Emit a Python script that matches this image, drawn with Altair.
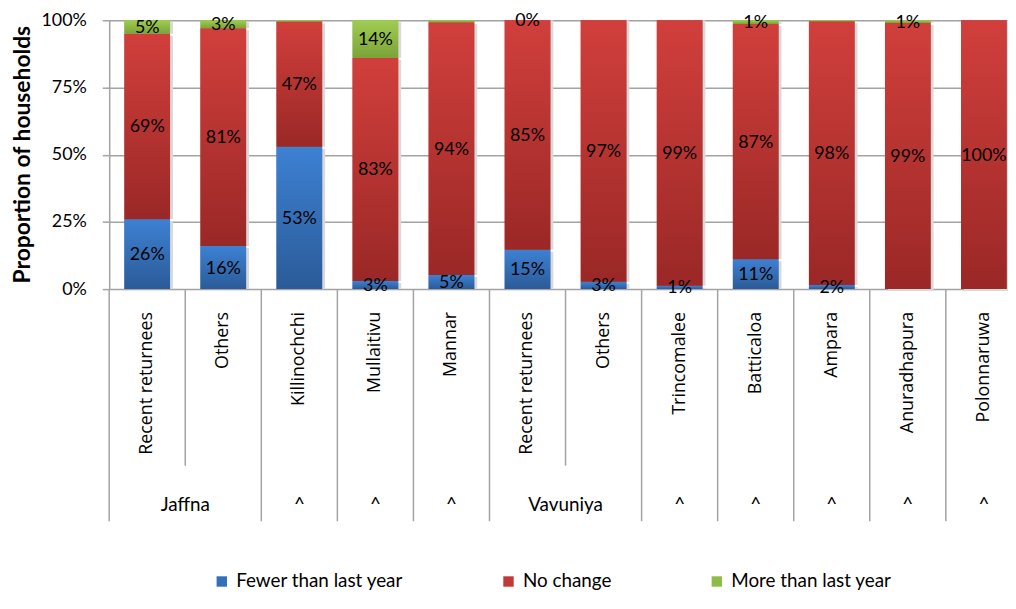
import altair as alt
import pandas as pd

# ---------------- data ----------------
groups = ["Jaffna", "Jaffna", "^", "^", "^", "Vavuniya", "Vavuniya", "^", "^", "^", "^", "^"]
subcats = ["Recent returnees", "Others", "Killinochchi", "Mullaitivu", "Mannar",
           "Recent returnees", "Others", "Trincomalee", "Batticaloa", "Ampara",
           "Anuradhapura", "Polonnaruwa"]
series = ["Fewer than last year", "No change", "More than last year"]

fewer = [26, 16, 52.9, 3, 5.2, 14.6, 2.7, 1.2, 11.1, 1.5, 0, 0]
nochange = [69, 81, 46.6, 83, 94.1, 85.4, 97.3, 98.8, 87.5, 98.1, 99, 100]
more = [5, 3, 0.5, 14, 0.7, 0, 0, 0, 1.4, 0.4, 1, 0]

fewer_text = ["26%", "16%", "53%", "3%", "5%", "15%", "3%", "1%", "11%", "2%", "", ""]
nochange_text = ["69%", "81%", "47%", "83%", "94%", "85%", "97%", "99%", "87%", "98%", "99%", "100%"]
more_text = ["5%", "3%", "", "14%", "", "0%", "", "", "1%", "", "1%", ""]

# ---------------- tables ----------------
keys = [f"{i:02d} {g} {s}" for i, (g, s) in enumerate(zip(groups, subcats))]

rows = []
for i, k in enumerate(keys):
    base = 0.0
    for s, vals, texts in zip(series, [fewer, nochange, more], [fewer_text, nochange_text, more_text]):
        v = vals[i]
        rows.append(dict(key=k, series=s, y0=base, y1=base + v, mid=base + v / 2, text=texts[i]))
        base += v
bars = pd.DataFrame(rows)

cats = pd.DataFrame({
    "key": keys,
    "sub": subcats,
    "group": groups,
    "inner": [i > 0 and groups[i] == groups[i - 1] and groups[i] != "^" for i in range(len(keys))],
})

runs = []
i = 0
while i < len(keys):
    j = i
    while groups[i] != "^" and j + 1 < len(keys) and groups[j + 1] == groups[i]:
        j += 1
    runs.append(dict(label=groups[i], first=keys[i], last=keys[j], span=j - i + 1))
    i = j + 1
grp = pd.DataFrame(runs)

# ---------------- styling ----------------
FONT = "Lato"
GRID = "#a3a3a3"
PLOT_W = 906
RANGE_W = 920
STEP = RANGE_W / 12.0
HALF_GAP = 0.2 * STEP

xscale = alt.Scale(domain=keys, range=[0, RANGE_W], paddingInner=0.4, paddingOuter=0.2)
yscale = alt.Scale(domain=[0, 100], nice=False)
yaxis = alt.Axis(
    values=[0, 25, 50, 75, 100], labelExpr="datum.value + '%'",
    grid=True, gridColor=GRID, gridWidth=1.5,
    domainColor=GRID, domainWidth=1.5, tickColor=GRID, tickWidth=1.5, tickSize=7,
    labelFont=FONT, labelFontSize=18, labelColor="#000000", labelPadding=16,
    title="Proportion of households", titleFont=FONT, titleFontSize=23, titleFontWeight="bold",
    titleColor="#000000", titleAngle=270, titleX=-87, titleY=135, titleAlign="center",
    titleBaseline="middle",
)

X = alt.X("key:N", scale=xscale, axis=None)
Ybar = alt.Y("y1:Q", scale=yscale, axis=yaxis, stack=None)


def grad(top, bottom):
    return {"gradient": "linear", "x1": 0, "y1": 0, "x2": 0, "y2": 1,
            "stops": [{"offset": 0, "color": top}, {"offset": 1, "color": bottom}]}


grads = {
    "Fewer than last year": grad("#3d81d3", "#2b5b98"),
    "No change": grad("#d13f3c", "#9a2826"),
    "More than last year": grad("#a0cc52", "#7ba338"),
}
flat = ["#3470ba", "#c13a37", "#8fbb47"]

shadow = alt.Chart(bars).mark_bar(color="#d9d9d9", xOffset=3, yOffset=2).encode(
    x=X, y=Ybar, y2="y0:Q")

base_bars = alt.Chart(bars).mark_bar().encode(
    x=X, y=Ybar, y2="y0:Q",
    color=alt.Color("series:N", scale=alt.Scale(domain=series, range=flat),
                    legend=alt.Legend(orient="none", legendX=104, legendY=556, direction="horizontal",
                                      columns=3, title=None, symbolType="square", symbolSize=110,
                                      symbolStrokeWidth=0, labelFont=FONT, labelFontSize=19,
                                      labelColor="#000000", labelOffset=5, labelLimit=400,
                                      columnPadding=96)),
)

grad_layers = [
    alt.Chart(bars).transform_filter(alt.datum.series == s).mark_bar(color=grads[s]).encode(
        x=X, y=Ybar, y2="y0:Q")
    for s in series
]

labels = alt.Chart(bars).transform_filter(alt.datum.text != "").mark_text(
    font=FONT, fontSize=18, color="#000000", baseline="middle", dy=1).encode(
    x=X, y=alt.Y("mid:Q", scale=yscale, axis=yaxis, stack=None), text="text:N")

Xedge = alt.X("key:N", scale=xscale, axis=None, bandPosition=0)
sep_full = alt.Chart(cats).transform_filter(~alt.datum.inner).mark_rule(
    color=GRID, strokeWidth=1.5, xOffset=-HALF_GAP).encode(
    x=Xedge, y=alt.value(271), y2=alt.value(505))
sep_short = alt.Chart(cats).transform_filter(alt.datum.inner).mark_rule(
    color=GRID, strokeWidth=1.5, xOffset=-HALF_GAP).encode(
    x=Xedge, y=alt.value(271), y2=alt.value(449))

sub_text = alt.Chart(cats).mark_text(
    font="Open Sans", fontSize=18, color="#000000", angle=270, align="right", baseline="middle").encode(
    x=X, y=alt.value(294), text="sub:N")

grp_single = alt.Chart(grp).transform_filter(alt.datum.span == 1).mark_text(
    font=FONT, fontSize=19, color="#000000", align="center", baseline="alphabetic").encode(
    x=alt.X("first:N", scale=xscale, axis=None), y=alt.value(495), text="label:N")
grp_multi = alt.Chart(grp).transform_filter(alt.datum.span > 1).mark_text(
    font=FONT, fontSize=19, color="#000000", align="center", baseline="alphabetic",
    xOffset=-HALF_GAP).encode(
    x=alt.X("last:N", scale=xscale, axis=None, bandPosition=0), y=alt.value(495), text="label:N")

chart = alt.layer(
    shadow, base_bars, *grad_layers, labels, sep_full, sep_short, sub_text, grp_single, grp_multi
).properties(
    width=PLOT_W, height=271,
    autosize=alt.AutoSizeParams(type="none"),
    padding={"left": 102, "top": 10, "right": 0, "bottom": 305},
).configure_view(strokeWidth=0).configure(background="#ffffff")

chart.save("out.html", embed_options={"renderer": "svg", "actions": False})
